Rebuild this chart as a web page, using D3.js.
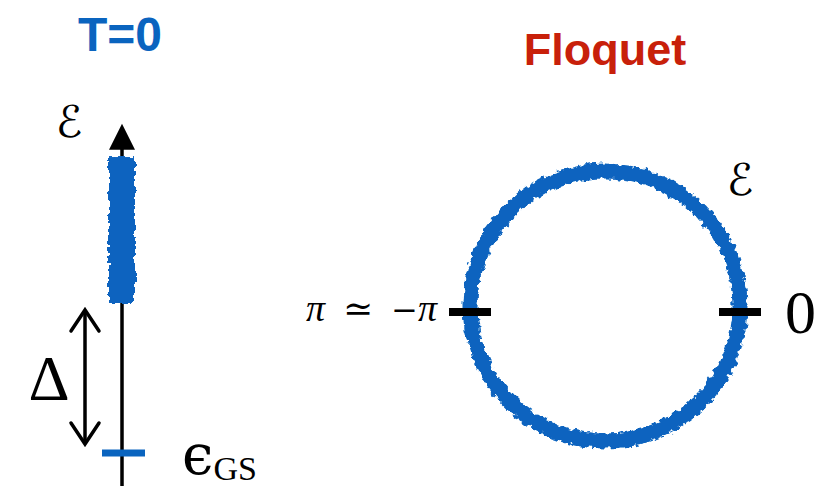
<!DOCTYPE html>
<html>
<head>
<meta charset="utf-8">
<script src="https://cdn.jsdelivr.net/npm/d3@7"></script>
<style>
  body { margin: 0; background: #fff; }
  svg { display: block; }
</style>
</head>
<body>
<div id="chart"></div>
<script>
// energy levels at T=0 (ground state = 0, gap Delta = 1)
let groundState = 0
let gap = 1
let band = [1, 1.96]
let energyAxis = [-0.25, 2.18]

// Floquet quasi-energies (on a circle)
let quasiTicks = [0, Math.PI]
let quasiLabels = ["0", "π ≃ −π"]

let width = 834, height = 486
let blue = "#0a64bf", red = "#c8200a"

let svg = d3.select("#chart").append("svg")
    .attr("width", width)
    .attr("height", height)

let defs = svg.append("defs")
let f = defs.append("filter").attr("id", "rough")
    .attr("x", "-20%").attr("y", "-20%").attr("width", "140%").attr("height", "140%")
f.append("feTurbulence").attr("type", "fractalNoise")
    .attr("baseFrequency", 0.18).attr("numOctaves", 2).attr("seed", 3).attr("result", "noise")
f.append("feDisplacementMap").attr("in", "SourceGraphic").attr("in2", "noise")
    .attr("scale", 8).attr("xChannelSelector", "R").attr("yChannelSelector", "G")

// ---- left panel: T=0 ----
let axisX = 122
let y = d3.scaleLinear().domain([0, 1]).range([453, 302])

svg.append("text")
    .attr("x", 120).attr("y", 51)
    .attr("text-anchor", "middle")
    .style("font-family", "Liberation Sans, Arial, sans-serif")
    .style("font-weight", "bold")
    .style("font-size", "48px")
    .attr("fill", blue)
    .text("T=0")

// energy axis with arrow
svg.append("line")
    .attr("x1", axisX).attr("x2", axisX)
    .attr("y1", y(energyAxis[0])).attr("y2", y(energyAxis[1]) + 20)
    .attr("stroke", "#000").attr("stroke-width", 3.5)

let tip = y(energyAxis[1])
svg.append("path")
    .attr("d", d3.line()([[axisX, tip], [axisX - 13, tip + 26], [axisX + 13, tip + 26]]) + "Z")
    .attr("fill", "#000")

let scriptE = (x, yy) => svg.append("text")
    .attr("x", x).attr("y", yy)
    .attr("text-anchor", "middle")
    .style("font-family", "DejaVu Sans, sans-serif")
    .style("font-size", "44px")
    .attr("fill", "#000")
    .text("ℰ")

scriptE(69, 137)

// continuum band
svg.append("rect")
    .attr("x", axisX - 13).attr("width", 26)
    .attr("y", y(band[1])).attr("height", y(band[0]) - y(band[1]))
    .attr("fill", blue)
    .attr("filter", "url(#rough)")

// ground state level
svg.append("line")
    .attr("x1", axisX - 20).attr("x2", axisX + 23)
    .attr("y1", y(groundState)).attr("y2", y(groundState))
    .attr("stroke", blue).attr("stroke-width", 7)

// gap arrow
let gx = 85
let gTop = y(gap) + 7, gBot = y(groundState) - 8
svg.append("line")
    .attr("x1", gx).attr("x2", gx).attr("y1", gTop + 1).attr("y2", gBot - 1)
    .attr("stroke", "#000").attr("stroke-width", 3.5)
svg.append("path")
    .attr("d", d3.line()([[gx - 14, gTop + 22], [gx, gTop + 1], [gx + 14, gTop + 22]]))
    .attr("fill", "none").attr("stroke", "#000").attr("stroke-width", 3.5).attr("stroke-linecap", "round")
svg.append("path")
    .attr("d", d3.line()([[gx - 14, gBot - 22], [gx, gBot - 1], [gx + 14, gBot - 22]]))
    .attr("fill", "none").attr("stroke", "#000").attr("stroke-width", 3.5).attr("stroke-linecap", "round")

svg.append("text")
    .attr("x", 49).attr("y", 400)
    .attr("text-anchor", "middle")
    .style("font-family", "Liberation Serif, serif")
    .style("font-size", "64px")
    .text("Δ")

let gs = svg.append("text")
    .attr("x", 182).attr("y", 474)
    .style("font-family", "DejaVu Serif, serif")
gs.append("tspan").style("font-size", "56px").text("ϵ")
gs.append("tspan").style("font-size", "34px").style("font-family", "Liberation Serif, serif")
    .attr("dy", 6).text("GS")

// ---- right panel: Floquet ----
let cx = 605, cy = 306, r = 135
let angle = d3.scaleLinear().domain([-Math.PI, Math.PI]).range([-Math.PI, Math.PI])

svg.append("text")
    .attr("x", cx).attr("y", 65)
    .attr("text-anchor", "middle")
    .style("font-family", "Liberation Sans, Arial, sans-serif")
    .style("font-weight", "bold")
    .style("font-size", "45px")
    .attr("fill", red)
    .text("Floquet")

svg.append("circle")
    .attr("cx", cx).attr("cy", cy).attr("r", r)
    .attr("fill", "none")
    .attr("stroke", blue).attr("stroke-width", 15)
    .attr("filter", "url(#rough)")

svg.selectAll(".qtick")
    .data(quasiTicks)
    .enter().append("line")
    .attr("class", "qtick")
    .attr("x1", d => cx + Math.cos(angle(d)) * (r - 21))
    .attr("x2", d => cx + Math.cos(angle(d)) * (r + 21))
    .attr("y1", cy + 6).attr("y2", cy + 6)
    .attr("stroke", "#000").attr("stroke-width", 8)

svg.append("text")
    .attr("x", 785).attr("y", 333)
    .style("font-family", "Liberation Serif, serif")
    .style("font-size", "62px")
    .text(quasiLabels[0])

// "π ≃ −π" with upright relation symbols
let parts = quasiLabels[1].split(" ")
let pl = svg.append("text")
    .attr("x", 437).attr("y", 321)
    .attr("text-anchor", "end")
    .style("font-family", "Liberation Serif, serif")
    .style("font-size", "38px")
pl.append("tspan").style("font-style", "italic").text(parts[0])
pl.append("tspan").attr("dx", 18).style("font-family", "DejaVu Serif, serif").style("font-size", "36px").text(parts[1])
pl.append("tspan").attr("dx", 18).style("font-family", "DejaVu Serif, serif").style("font-size", "32px").text(parts[2].charAt(0))
pl.append("tspan").style("font-style", "italic").text(parts[2].slice(1))

scriptE(740, 195)
</script>
</body>
</html>
